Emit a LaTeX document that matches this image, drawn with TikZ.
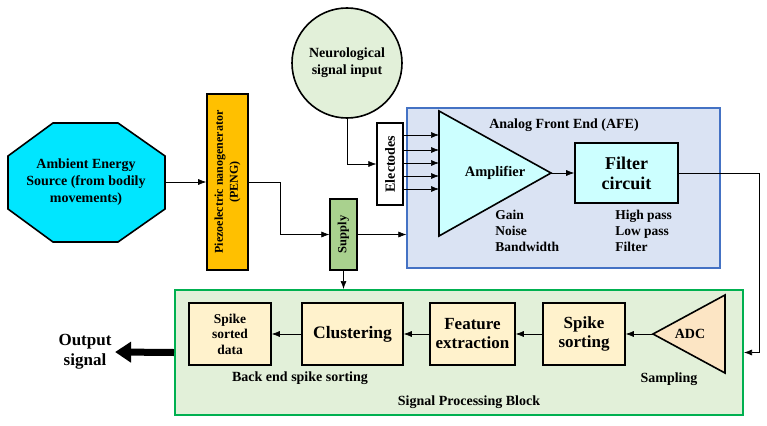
\documentclass[tikz,border=0pt]{standalone}
\usepackage{fontspec}
\setmainfont{Liberation Serif}
\usetikzlibrary{arrows,arrows.meta,positioning,shapes.geometric}
\definecolor{octcyan}{RGB}{0,230,255}
\definecolor{pengorange}{RGB}{255,192,0}
\definecolor{neurogreen}{RGB}{226,240,217}
\definecolor{supplygreen}{RGB}{169,209,142}
\definecolor{afeblue}{RGB}{218,227,243}
\definecolor{afeborder}{RGB}{68,114,196}
\definecolor{ampcyan}{RGB}{204,255,255}
\definecolor{spbborder}{RGB}{0,176,80}
\definecolor{stagefill}{RGB}{255,242,204}
\definecolor{adcfill}{RGB}{252,229,196}

\begin{document}
\begin{tikzpicture}[x=1pt,y=-1pt,->,>={Latex[length=8pt,width=6pt]},semithick,
                    font=\bfseries]
  \tikzstyle{block}=[draw,line width=1.6pt,inner sep=0pt,align=center]
  \tikzstyle{stage}=[block,fill=stagefill,minimum height=62pt]
  \tikzstyle{label}=[align=left,inner sep=0pt,font=\bfseries\fontsize{13.5}{16}\selectfont]

  \useasboundingbox (0,0) rectangle (767,425);

  % big panels
  \node[draw=afeborder,line width=1.2pt,fill=afeblue,minimum width=313pt,
        minimum height=160pt] (afe) at (563.5,188) {};
  \node[draw=spbborder,line width=2pt,fill=neurogreen,minimum width=568pt,
        minimum height=125pt] (spb) at (459,352.5) {};

  % energy source
  \draw[-,line width=1.6pt,fill=octcyan] (53,123) -- (118,123) -- (165,156) -- (165,209)
        -- (118,242) -- (53,242) -- (8,209) -- (8,156) -- cycle;
  \coordinate (octR) at (165,182);
  \node[align=center,font=\bfseries\fontsize{14}{17}\selectfont] (ambient) at (86,182)
        {Ambient Energy\\Source (from bodily\\movements)};

  \node[block,fill=pengorange,rotate=90,minimum width=176pt,minimum height=41pt,
        font=\bfseries\fontsize{12}{15}\selectfont] (peng) at (227.5,182)
        {Piezoelectric nanogenerator\\(PENG)};
  \node[block,fill=supplygreen,line width=1.2pt,rotate=90,minimum width=71pt,
        minimum height=27pt,font=\bfseries\fontsize{12.5}{14}\selectfont] (supply)
        at (343.5,234.5) {Supply};
  \node[block,circle,fill=neurogreen,minimum size=110pt,
        font=\bfseries\fontsize{14}{17}\selectfont] (neuro) at (347,63)
        {Neurological\\signal input};
  \node[block,fill=white,line width=1.2pt,rotate=90,minimum width=82pt,
        minimum height=26pt,font=\bfseries\fontsize{14}{16}\selectfont] (elec)
        at (390,164) {Electodes};

  % analog front end
  \node[font=\bfseries\fontsize{14}{16}\selectfont] (afetitle) at (564,125)
        {Analog Front End (AFE)};
  \coordinate (ampT) at (439,111);
  \coordinate (ampA) at (551,173);
  \coordinate (ampB) at (439,236);
  \draw[-,line width=1.6pt,fill=ampcyan] (ampT) -- (ampA) -- (ampB) -- cycle;
  \node[font=\bfseries\fontsize{14.5}{16}\selectfont] (amp) at (495,173) {Amplifier};
  \node[block,fill=ampcyan,minimum width=103pt,minimum height=60pt,
        font=\bfseries\fontsize{18}{20}\selectfont] (filter) at (626.5,173)
        {Filter\\circuit};
  \node[label,anchor=north west] (gain) at (495,210) {Gain\\Noise\\Bandwidth};
  \node[label,anchor=north west] (pass) at (615,210) {High pass\\Low pass\\Filter};

  % signal processing block
  \node[stage,minimum width=82pt,font=\bfseries\fontsize{13.5}{15.5}\selectfont]
        (sorted) at (230,334) {Spike\\sorted\\data};
  \node[stage,minimum width=101pt,font=\bfseries\fontsize{17.5}{19}\selectfont]
        (cluster) at (352.5,334) {Clustering};
  \node[stage,minimum width=85pt,font=\bfseries\fontsize{17}{19}\selectfont]
        (feature) at (472.5,334) {Feature\\extraction};
  \node[stage,minimum width=82pt,font=\bfseries\fontsize{17}{19}\selectfont]
        (spike) at (584,334) {Spike\\sorting};
  \coordinate (adcA) at (653,334);
  \draw[-,line width=1.6pt,fill=adcfill] (adcA) -- (725,295) -- (725,373) -- cycle;
  \node[font=\bfseries\fontsize{14}{16}\selectfont] (adc) at (690,334) {ADC};
  \node[label,font=\bfseries\fontsize{14}{16}\selectfont] (backend) at (300,378)
        {Back end spike sorting};
  \node[label,font=\bfseries\fontsize{14}{16}\selectfont] (sampling) at (669,379)
        {Sampling};
  \node[label,font=\bfseries\fontsize{14}{16}\selectfont] (spbtitle) at (469,402)
        {Signal Processing Block};
  \node[align=center,font=\bfseries\fontsize{17}{20}\selectfont] (out) at (85,352)
        {Output\\signal};

  % connections
  \draw (octR) -- (peng);
  \draw (peng.south) -- ++(31,0) |- (supply.north);
  \draw (supply.south) -- (supply.south -| afe.west);
  \draw (supply.west) -- (supply.west |- spb.north);
  \draw (neuro.south) |- (elec.north);
  \foreach \y in {135,150,163,176,189}
    \draw (elec.south |- 0,\y) -- (ampT |- 0,\y);
  \draw (ampA) -- (filter.west);
  \draw (filter.east) -- ++(80,0) |- (spb.east);
  \draw (adcA) -- (spike.east);
  \draw (spike) -- (feature);
  \draw (feature) -- (cluster);
  \draw (cluster) -- (sorted);
  \draw[-{Triangle[length=16pt,width=20pt]},line width=7pt]
        (spb.west) -- (out.east);
\end{tikzpicture}
\end{document}
